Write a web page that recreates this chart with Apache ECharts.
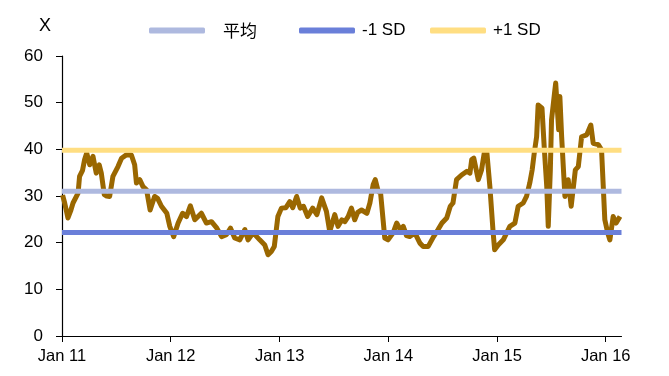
<!DOCTYPE html>
<html>
<head>
<meta charset="utf-8">
<script src="https://cdn.jsdelivr.net/npm/echarts@6/dist/echarts.min.js"></script>
<style>
html,body{margin:0;padding:0;background:#fff;}
#chart{width:669px;height:376px;}
</style>
</head>
<body>
<div id="chart"></div>
<script>
const dates = [
'2011-01-03','2011-01-10','2011-01-21','2011-01-31','2011-02-07','2011-02-24','2011-03-01','2011-03-11','2011-03-18','2011-03-25',
'2011-04-04','2011-04-15','2011-04-26','2011-05-06','2011-05-13','2011-05-23','2011-05-31','2011-06-10','2011-06-21','2011-07-08',
'2011-07-20','2011-08-05','2011-08-22','2011-09-02','2011-09-08','2011-09-19','2011-09-30','2011-10-12','2011-10-24','2011-11-08',
'2011-11-18','2011-12-01','2011-12-19','2011-12-29','2012-01-11','2012-01-26','2012-02-10','2012-02-23','2012-03-07','2012-03-22',
'2012-04-13','2012-04-30','2012-05-17','2012-06-04','2012-06-20','2012-07-06','2012-07-20','2012-08-03','2012-08-20','2012-09-06',
'2012-09-17','2012-10-04','2012-10-26','2012-11-12','2012-11-23','2012-12-04','2012-12-14','2012-12-26','2013-01-07','2013-01-22',
'2013-02-04','2013-02-14','2013-02-27','2013-03-11','2013-03-22','2013-04-05','2013-04-22','2013-05-06','2013-05-22','2013-06-07',
'2013-06-18','2013-07-05','2013-07-16','2013-07-29','2013-08-08','2013-08-19','2013-08-30','2013-09-10','2013-09-20','2013-10-03',
'2013-10-21','2013-10-31','2013-11-11','2013-11-18','2013-11-28','2013-12-06','2013-12-20','2013-12-31','2014-01-17','2014-01-29',
'2014-02-10','2014-02-20','2014-03-03','2014-03-14','2014-03-31','2014-04-17','2014-04-28','2014-05-15','2014-06-02','2014-06-17',
'2014-06-30','2014-07-16','2014-07-28','2014-08-06','2014-08-18','2014-09-04','2014-09-22','2014-10-02','2014-10-08','2014-10-15',
'2014-10-30','2014-11-10','2014-11-19','2014-11-28','2014-12-08','2014-12-19','2014-12-24','2015-01-05','2015-01-22','2015-02-13',
'2015-03-02','2015-03-13','2015-03-30','2015-04-10','2015-04-21','2015-04-29','2015-05-06','2015-05-14','2015-05-19','2015-06-01',
'2015-06-09','2015-06-17','2015-06-22','2015-06-29','2015-07-03','2015-07-13','2015-07-17','2015-07-27','2015-07-31','2015-08-06',
'2015-08-17','2015-08-28','2015-09-07','2015-09-21','2015-10-01','2015-10-12','2015-10-29','2015-11-12','2015-11-20','2015-12-07',
'2015-12-18','2015-12-29','2016-01-08','2016-01-15','2016-01-26','2016-02-05','2016-02-18'
];
const values = [
30.2,28.5,25.3,27.0,28.5,30.6,34.2,35.5,37.8,39.2,
36.7,38.5,34.9,36.7,34.9,30.3,30.0,29.9,34.2,36.3,
38.1,38.8,38.8,36.7,32.8,33.5,32.0,31.3,27.0,29.9,
29.5,27.8,26.3,23.5,21.3,24.2,26.3,25.6,27.9,24.9,
26.3,24.2,24.5,23.1,21.3,21.7,23.1,21.0,20.6,22.8,
20.6,22.1,20.6,19.5,17.4,18.1,19.2,25.6,27.4,27.5,
28.8,27.5,29.9,27.4,27.8,25.6,27.4,26.0,29.6,26.7,
22.4,26.0,23.5,24.9,24.5,25.6,27.4,24.9,26.5,27.0,
26.3,28.5,32.4,33.5,31.0,30.6,21.0,20.6,22.1,24.2,
22.8,23.5,21.5,21.3,22.1,19.9,19.2,19.2,21.3,22.8,
24.2,25.3,27.8,28.5,33.5,34.5,35.3,34.9,37.8,38.1,
33.5,35.6,39.2,39.2,32.0,22.1,18.5,19.5,20.6,23.5,
24.2,27.8,28.5,29.9,32.8,35.6,39.2,42.7,49.5,48.8,
39.9,32.0,23.5,35.6,46.3,52.0,54.2,44.2,51.3,42.7,
29.9,33.5,27.8,35.6,36.3,42.7,43.1,45.2,41.3,41.0,
39.9,24.9,22.0,20.6,25.6,24.2,25.6
];
const meanValue = 31.0;
const minus1SD = 22.2;
const plus1SD = 39.8;
const bandNames = ['平均', '-1 SD', '+1 SD'];
const xStart = '2011-01-01';
const xEnd = '2016-02-23';
const tickDates = ['2011-01-01','2012-01-01','2013-01-01','2014-01-01','2015-01-01','2016-01-01'];
const tickLabels = ['Jan 11','Jan 12','Jan 13','Jan 14','Jan 15','Jan 16'];

const toTs = s => { const p = s.split('-').map(Number); return Date.UTC(p[0], p[1]-1, p[2]); };
const tickTs = tickDates.map(toTs);
const labelFor = {};
tickTs.forEach((t,i) => labelFor[t] = tickLabels[i]);

const chart = echarts.init(document.getElementById('chart'), null, {renderer:'canvas'});
const FONT = '"Liberation Sans", Arial, sans-serif';
const bandColors = ['#AEB9DF', '#6A7FD9', '#FFDE82'];
const bandVals = [meanValue, minus1SD, plus1SD];
const legendLefts = [149, 299, 430];

chart.setOption({
  animation: false,
  backgroundColor: '#ffffff',
  grid: {left: 62, right: 47.5, top: 56, bottom: 40, containLabel: false},
  legend: bandNames.map((n,i) => ({
    data: [n], left: legendLefts[i], top: 22, padding: 0,
    icon: 'roundRect', itemWidth: 56, itemHeight: 6,
    itemStyle: {borderWidth: 0},
    textStyle: {fontFamily: i === 0 ? '"Noto Sans CJK SC", sans-serif' : FONT, fontSize: 17, color: '#000',
      padding: i === 0 ? [0,0,0,13] : [0,0,0,2]},
    selectedMode: false
  })),
  xAxis: {
    type: 'value', min: toTs(xStart), max: toTs(xEnd),
    axisLine: {show: true, lineStyle: {color: '#000', width: 1.2}},
    axisTick: {show: true, length: 6, lineStyle: {color: '#000'}, customValues: tickTs},
    axisLabel: {customValues: tickTs, formatter: v => labelFor[v] || '', fontFamily: FONT, fontSize: 16.5, color: '#000', margin: 12, hideOverlap: false, showMinLabel: true, showMaxLabel: true},
    splitLine: {show: false}
  },
  yAxis: {
    type: 'value', min: 0, max: 60, interval: 10,
    name: 'X', nameLocation: 'end', nameGap: 21,
    nameTextStyle: {fontFamily: FONT, fontSize: 18, color: '#000', align: 'right', padding: [0, 11, 0, 0]},
    axisLine: {show: true, lineStyle: {color: '#000', width: 1.2}},
    axisTick: {show: true, length: 6, lineStyle: {color: '#000'}},
    axisLabel: {fontFamily: FONT, fontSize: 17, color: '#000', margin: 19},
    splitLine: {show: false}
  },
  series: [
    {
      name: 'X', type: 'line', symbol: 'none', z: 2,
      data: dates.map((d,i) => [toTs(d), values[i]]),
      lineStyle: {color: '#9A6700', width: 5, join: 'round'},
      itemStyle: {color: '#9A6700'}
    }
  ].concat(bandNames.map((n,i) => ({
    name: n, type: 'line', symbol: 'none', z: 3,
    data: [[toTs(xStart), bandVals[i]], [toTs(xEnd), bandVals[i]]],
    lineStyle: {color: bandColors[i], width: 5},
    itemStyle: {color: bandColors[i]}
  })))
});
</script>
</body>
</html>
